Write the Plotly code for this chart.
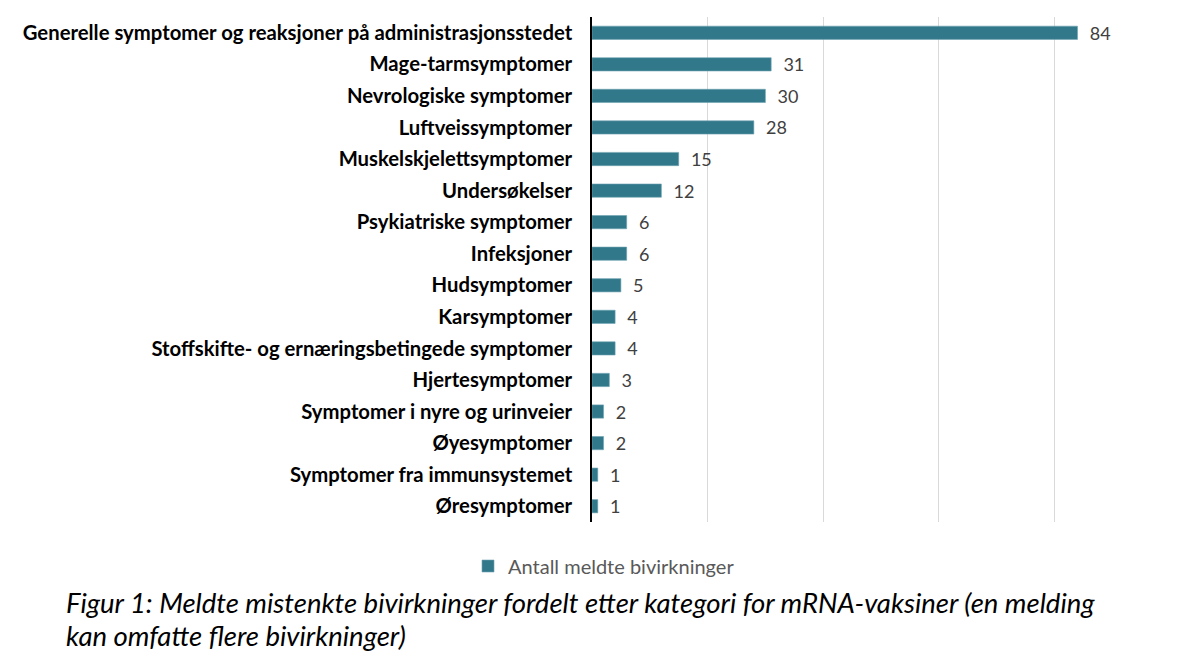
import plotly.graph_objects as go

categories = [
    "Generelle symptomer og reaksjoner på administrasjonsstedet",
    "Mage-tarmsymptomer",
    "Nevrologiske symptomer",
    "Luftveissymptomer",
    "Muskelskjelettsymptomer",
    "Undersøkelser",
    "Psykiatriske symptomer",
    "Infeksjoner",
    "Hudsymptomer",
    "Karsymptomer",
    "Stoffskifte- og ernæringsbetingede symptomer",
    "Hjertesymptomer",
    "Symptomer i nyre og urinveier",
    "Øyesymptomer",
    "Symptomer fra immunsystemet",
    "Øresymptomer",
]
values = [84, 31, 30, 28, 15, 12, 6, 6, 5, 4, 4, 3, 2, 2, 1, 1]
series_name = "Antall meldte bivirkninger"
caption_lines = [
    "Figur 1: Meldte mistenkte bivirkninger fordelt etter kategori for mRNA-vaksiner (en melding",
    "kan omfatte flere bivirkninger)",
]

FONT = "Lato"
BAR = "#31788A"
OFF = 8  # page body margin

fig = go.Figure()
fig.add_trace(go.Bar(
    y=categories, x=values, orientation="h", name=series_name,
    marker=dict(color=BAR, line=dict(color="#6FA3B1", width=0.6)),
    texttemplate="  %{x}", textposition="outside",
    textfont=dict(family=FONT, size=18, color="#404040"),
    constraintext="none",
    cliponaxis=False,
))

W, H = 1200 - 2 * OFF, 661 - 2 * OFF
L, R, T, B = 592 - OFF, 30 - OFF, 17 - OFF, 139 - OFF
pw, ph = W - L - R, H - T - B


def py(y):  # target page pixel y -> paper y
    return (T + ph - (y - OFF)) / ph


def px(x):
    return ((x - OFF) - L) / pw


fig.update_layout(
    width=W, height=H,
    margin=dict(l=L, r=R, t=T, b=B, pad=0),
    plot_bgcolor="white", paper_bgcolor="white",
    bargap=0.58,
    showlegend=True,
    legend=dict(orientation="h", x=px(604), xanchor="center",
                y=py(566), yanchor="middle",
                font=dict(family=FONT, size=20, color="#595959")),
    font=dict(family=FONT),
)
fig.update_xaxes(range=[0, 100], dtick=20, showticklabels=False,
                 showgrid=True, gridcolor="#D9D9D9", gridwidth=1,
                 zeroline=False, showline=False, ticks="")
fig.update_yaxes(autorange="reversed", showgrid=False, showline=True,
                 linecolor="black", linewidth=1.5, ticks="",
                 ticklabelstandoff=14,
                 tickfont=dict(family=FONT, size=20.3, color="black", weight="bold"))

for i, line in enumerate(caption_lines):
    fig.add_annotation(
        text=line, xref="paper", yref="paper",
        x=px(64), xanchor="left",
        y=py(602 + 33 * i), yanchor="middle",
        showarrow=False, align="left",
        font=dict(family=FONT, size=27.5, color="black", style="italic"),
    )

fig.write_html("out.html")
